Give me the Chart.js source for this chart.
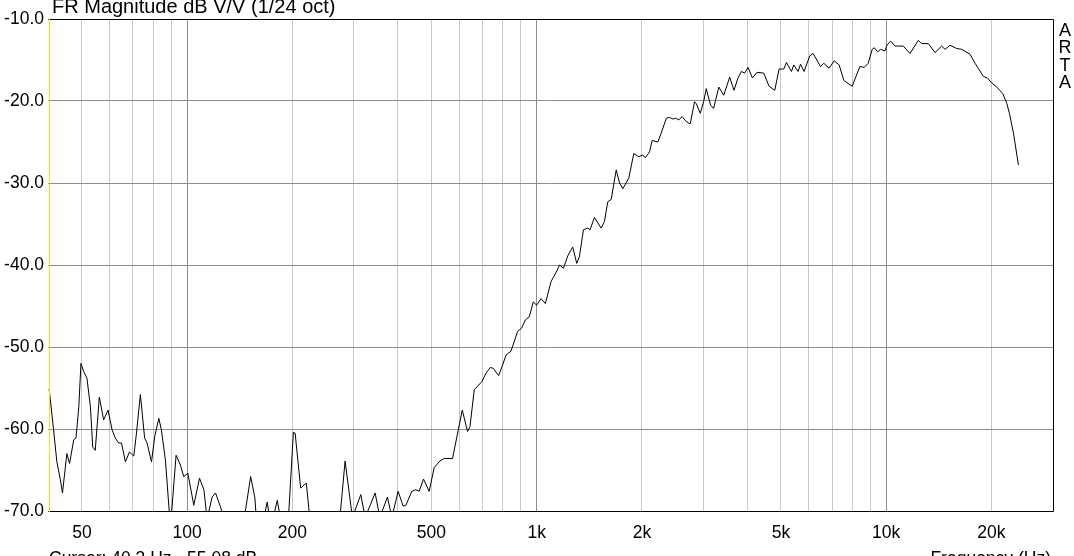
<!DOCTYPE html>
<html>
<head>
<meta charset="utf-8">
<title>FR Magnitude</title>
<script src="https://cdn.jsdelivr.net/npm/chart.js@4.4.1/dist/chart.umd.min.js"></script>
<style>
  html, body { margin: 0; padding: 0; background: #ffffff; }
  #wrap { width: 1074px; height: 556px; position: relative; overflow: hidden; }
</style>
</head>
<body>
<div id="wrap"><canvas id="frChart" width="1074" height="556"></canvas></div>
<script>
// Measured response (1/24 oct smoothing), Hz and dB
const freqHz = [
  40.3, 41.5, 42.4, 43.4, 44.0, 45.3, 46.1, 47.4, 48.1, 49.0,
  49.7, 50.6, 51.7, 52.9, 53.7, 54.6, 56.1, 57.7, 59.4, 61.0,
  62.3, 63.7, 64.9, 66.6, 68.4, 70.4, 71.6, 73.5, 75.6, 76.8,
  79.1, 80.8, 83.0, 84.4, 86.7, 89.6, 93.0, 95.7, 97.8, 100.5,
  104.5, 108.5, 111.7, 114.1, 117.9, 120.6, 124.6, 130, 144.4, 152,
  156.3, 158.4, 163.7, 169.5, 173.7, 181.1, 186.8, 194.3, 201.4, 203.7,
  211.3, 219.3, 225.7, 272.1, 283.1, 297.1, 314, 323.1, 345.1, 355.9,
  374.2, 385.2, 401.5, 415, 422.5, 439.5, 451.2, 461.2, 474.5, 492.6,
  509.2, 528.7, 543.9, 574.5, 612.6, 634.3, 644.5, 663, 677.5, 697.4,
  716.1, 736.8, 751.5, 778.3, 795.9, 817.1, 844.5, 882.3, 905.7, 928.1,
  953.1, 977.8, 1000, 1029, 1059, 1100, 1137, 1162, 1193, 1227,
  1268, 1302, 1325, 1361, 1400, 1422, 1463, 1529, 1563, 1597,
  1634, 1689, 1726, 1764, 1835, 1896, 1960, 2005, 2049, 2103,
  2141, 2222, 2272, 2349, 2400, 2453, 2497, 2552, 2608, 2678,
  2750, 2829, 2861, 2938, 3003, 3056, 3144, 3207, 3321, 3428,
  3566, 3669, 3766, 3852, 3937, 4024, 4142, 4270, 4463, 4622,
  4799, 4937, 5093, 5184, 5357, 5439, 5597, 5686, 5821, 6044,
  6177, 6486, 6629, 6864, 7096, 7334, 7566, 7991, 8406, 8650,
  8881, 9119, 9240, 9450, 9638, 9915, 10044, 10295, 10592, 11186,
  11693, 12354, 12634, 13195, 13792, 14413, 14731, 15224, 15912, 16444,
  17370, 17955, 18964, 19473, 20045, 20717, 21554, 22131, 22512, 23116,
  23891
];

const magDb = [
  -55.1, -60.1, -64.0, -66.2, -67.8, -63.0, -64.2, -61.3, -61.1, -57.3,
  -52.0, -53.0, -53.8, -57.3, -62.2, -62.6, -56.1, -58.9, -57.7, -60.1,
  -61.1, -61.7, -61.7, -64.0, -62.8, -63.3, -60.6, -55.8, -61.1, -61.7,
  -64.0, -60.9, -58.7, -60.1, -63.8, -72.0, -63.2, -64.4, -65.8, -65.4,
  -69.3, -66.0, -67.4, -71.0, -68.3, -67.8, -69.5, -72.0, -72.0, -65.8,
  -68.4, -72.0, -72.0, -68.9, -72.0, -68.7, -72.0, -72.0, -60.4, -60.5,
  -67.2, -66.6, -72.0, -72.0, -63.9, -70.8, -68.0, -70.8, -67.8, -70.8,
  -68.3, -70.8, -67.6, -69.4, -69.3, -67.6, -67.4, -67.6, -66.1, -67.6,
  -64.7, -63.9, -63.6, -63.6, -57.7, -60.3, -59.7, -55.2, -54.8, -54.2,
  -53.2, -52.5, -52.6, -53.5, -52.4, -51.0, -50.5, -48.1, -47.7, -46.7,
  -46.3, -44.5, -44.9, -44.1, -44.7, -42.0, -40.9, -40.0, -40.4, -38.9,
  -37.8, -39.8, -39.0, -35.7, -35.5, -35.7, -34.2, -35.5, -34.7, -32.3,
  -32.0, -28.4, -30.0, -30.7, -29.4, -26.4, -26.8, -26.6, -26.9, -26.2,
  -24.8, -25.0, -23.9, -22.1, -22.0, -22.2, -22.1, -22.3, -21.9, -22.5,
  -22.8, -20.1, -20.3, -21.5, -20.1, -18.5, -20.5, -20.9, -18.3, -19.3,
  -17.1, -18.7, -17.2, -16.4, -16.6, -15.9, -17.2, -16.5, -16.6, -18.2,
  -18.7, -16.1, -16.1, -15.3, -16.4, -15.6, -16.4, -15.5, -16.4, -14.5,
  -14.2, -15.8, -15.4, -16.0, -15.1, -15.6, -17.5, -18.2, -15.8, -15.9,
  -15.4, -13.7, -13.5, -14.0, -13.7, -13.9, -13.2, -12.7, -13.3, -13.3,
  -14.2, -12.6, -13.0, -13.0, -14.1, -13.3, -13.7, -13.2, -13.6, -13.7,
  -14.3, -15.4, -17.0, -17.2, -17.8, -18.3, -19.1, -20.3, -21.5, -23.9,
  -27.8
];

// Axis grid and labels
const gridFreqs = [
  50, 60, 70, 80, 90, 100, 200, 300, 400, 500, 600, 700, 800, 900,
  1000, 2000, 3000, 4000, 5000, 6000, 7000, 8000, 9000, 10000, 20000
];
const majorFreqs = [100, 1000, 10000];
const labelFreqs = [50, 100, 200, 500, 1000, 2000, 5000, 10000, 20000];
const labelText = ["50", "100", "200", "500", "1k", "2k", "5k", "10k", "20k"];
const dbTicks = [-70, -60, -50, -40, -30, -20, -10];

const titleText = "FR Magnitude dB V/V (1/24 oct)";
const cursorText = "Cursor: 40.3 Hz, -55.08 dB";
const xAxisText = "Frequency (Hz)";
const brandLetters = ["A", "R", "T", "A"];

const FONT = "'Liberation Sans', Arial, sans-serif";

// Frame, cursor line and the loose texts around the plot
const artaFrame = {
  id: "artaFrame",
  afterDraw: function (chart) {
    const ctx = chart.ctx;
    const a = chart.chartArea;
    ctx.save();
    ctx.lineWidth = 1;
    ctx.strokeStyle = "#000000";
    ctx.beginPath();
    ctx.moveTo(a.left + 0.5, a.top + 0.5);
    ctx.lineTo(a.right + 0.5, a.top + 0.5);
    ctx.lineTo(a.right + 0.5, a.bottom + 0.5);
    ctx.lineTo(a.left + 0.5, a.bottom + 0.5);
    ctx.stroke();

    // cursor sits at the first point, drawn in yellow
    const cx = Math.round(chart.scales.x.getPixelForValue(freqHz[0])) + 0.5;
    ctx.strokeStyle = "#e8e800";
    ctx.beginPath();
    ctx.moveTo(cx, a.top);
    ctx.lineTo(cx, a.bottom + 1);
    ctx.stroke();

    ctx.fillStyle = "#000000";
    ctx.textBaseline = "alphabetic";
    ctx.font = "20px " + FONT;
    ctx.textAlign = "left";
    ctx.fillText(titleText, 52, 13);

    ctx.font = "17.5px " + FONT;
    ctx.fillText(cursorText, 49, 564);
    ctx.textAlign = "right";
    ctx.fillText(xAxisText, 1051, 564);

    ctx.font = "18px " + FONT;
    ctx.textAlign = "center";
    ctx.textBaseline = "middle";
    brandLetters.forEach(function (ch, i) {
      ctx.fillText(ch, 1065, 31 + i * 17.3);
    });
    ctx.restore();
  },
};

function initChart() {
  const points = freqHz.map(function (f, i) {
    return { x: f, y: magDb[i] };
  });

  const ctx = document.getElementById("frChart").getContext("2d");
  new Chart(ctx, {
    type: "line",
    data: {
      datasets: [
        {
          data: points,
          borderColor: "#000000",
          borderWidth: 1,
          pointRadius: 0,
          tension: 0,
          fill: false,
        },
      ],
    },
    options: {
      responsive: false,
      animation: false,
      events: [],
      layout: { padding: { top: 19, right: 21, left: 0, bottom: 0 } },
      plugins: {
        legend: { display: false },
        tooltip: { enabled: false },
      },
      scales: {
        x: {
          type: "logarithmic",
          min: 40,
          max: 30000,
          afterBuildTicks: function (scale) {
            scale.ticks = gridFreqs.map(function (v) {
              return { value: v };
            });
          },
          afterFit: function (scale) {
            scale.height = 45;
          },
          border: { display: false },
          grid: {
            drawTicks: false,
            color: function (c) {
              return c.tick && majorFreqs.indexOf(c.tick.value) >= 0
                ? "#8c8c8c"
                : "#c8c8c8";
            },
          },
          ticks: {
            autoSkip: false,
            maxRotation: 0,
            padding: 12,
            color: "#000000",
            font: { family: FONT, size: 17.5 },
            callback: function (value) {
              const i = labelFreqs.indexOf(value);
              return i >= 0 ? labelText[i] : "";
            },
          },
        },
        y: {
          min: -70,
          max: -10,
          afterBuildTicks: function (scale) {
            scale.ticks = dbTicks.map(function (v) {
              return { value: v };
            });
          },
          afterFit: function (scale) {
            scale.width = 48;
          },
          border: { display: false },
          grid: { drawTicks: false, color: "#8c8c8c" },
          ticks: {
            padding: 4,
            color: "#000000",
            font: { family: FONT, size: 17.5 },
            callback: function (value) {
              return value.toFixed(1);
            },
          },
        },
      },
    },
    plugins: [artaFrame],
  });
}

initChart();
</script>
</body>
</html>
